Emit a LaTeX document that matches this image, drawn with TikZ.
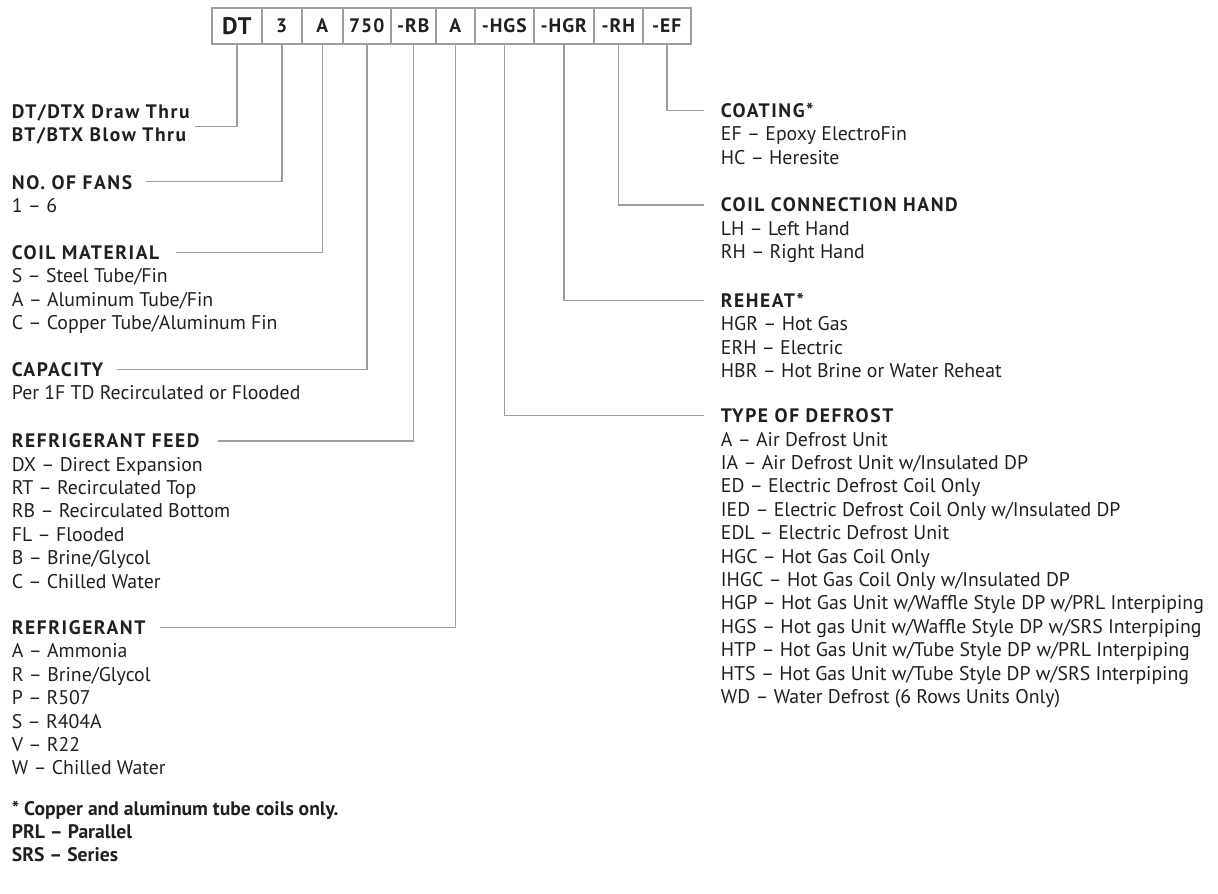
\documentclass[tikz,border=0pt]{standalone}
\usepackage{fontspec}
\setmainfont{PT Sans}
\newfontfamily\headfont[LetterSpace=8]{PT Sans}
\newfontfamily\boxfont[LetterSpace=5]{PT Sans}
\definecolor{ink}{HTML}{231F20}
\definecolor{rulegrey}{HTML}{9D9D9D}
\begin{document}
\begin{tikzpicture}[x=1pt,y=-1pt,
  code/.style={draw=rulegrey, line width=1.5pt, minimum height=36pt, inner sep=0pt, anchor=west,
    font=\fontsize{19.5}{19.5}\boxfont\bfseries, text=ink},
  head/.style={anchor=base west, inner sep=0pt, font=\fontsize{19.5}{19.5}\headfont\bfseries,
    text=ink, text height=13.7pt, text depth=0pt},
  note/.style={anchor=base west, inner sep=0pt, font=\fontsize{19.6}{19.6}\selectfont\bfseries, text=ink},
  item/.style={anchor=base west, inner sep=0pt, font=\fontsize{19.8}{19.8}\selectfont, text=ink},
  conn/.style={draw=rulegrey, line width=1.5pt}]
\useasboundingbox (0,0) rectangle (1218,894);

% code boxes
\node[code, minimum width=50pt, font=\fontsize{24}{24}\boxfont\bfseries] (b1) at (211,26) {DT};
\node[code, minimum width=40pt] (b2) at (261,26) {3};
\node[code, minimum width=41pt] (b3) at (301,26) {A};
\node[code, minimum width=48pt] (b4) at (342,26) {750};
\node[code, minimum width=45pt] (b5) at (390,26) {-RB};
\node[code, minimum width=39pt] (b6) at (435,26) {A};
\node[code, minimum width=59pt] (b7) at (474,26) {-HGS};
\node[code, minimum width=60pt] (b8) at (533,26) {-HGR};
\node[code, minimum width=49pt] (b9) at (593,26) {-RH};
\node[code, minimum width=48pt] (b10) at (642,26) {-EF};

% left column
\node[head] (hDT) at (11.7,118.4) {DT/DTX Draw Thru};
\node[head] (hBT) at (11.7,141.7) {BT/BTX Blow Thru};

\node[head] (hFans) at (11.7,189.2) {NO. OF FANS};
\node[item] (fans1) at (11.7,212.6) {1 – 6};

\node[head] (hCoil) at (11.7,259.4) {COIL MATERIAL};
\foreach \t [count=\i] in {S – Steel Tube/Fin, A – Aluminum Tube/Fin, C – Copper Tube/Aluminum Fin}
  \node[item] (coil\i) at (11.7,259.4+23.4*\i) {\t};

\node[head] (hCap) at (11.7,376.2) {CAPACITY};
\node[item] (cap1) at (11.7,399.6) {Per 1F TD Recirculated or Flooded};

\node[head] (hFeed) at (11.7,447.7) {REFRIGERANT FEED};
\foreach \t [count=\i] in {DX – Direct Expansion, RT – Recirculated Top, RB – Recirculated Bottom, FL – Flooded, B – Brine/Glycol, C – Chilled Water}
  \node[item] (feed\i) at (11.7,447.7+23.4*\i) {\t};

\node[head] (hRef) at (11.7,634.4) {REFRIGERANT};
\foreach \t [count=\i] in {A – Ammonia, R – Brine/Glycol, P – R507, S – R404A, V – R22, W – Chilled Water}
  \node[item] (ref\i) at (11.7,634.4+23.4*\i) {\t};

\node[note] (note1) at (11.7,815) {* Copper and aluminum tube coils only.};
\node[note] (note2) at (11.7,838.4) {PRL – Parallel};
\node[note] (note3) at (11.7,861.8) {SRS – Series};

% right column
\node[head] (hCoat) at (720.7,117.4) {COATING*};
\foreach \t [count=\i] in {EF – Epoxy ElectroFin, HC – Heresite}
  \node[item] (coat\i) at (720.7,117.4+23.4*\i) {\t};

\node[head] (hHand) at (720.7,211.7) {COIL CONNECTION HAND};
\foreach \t [count=\i] in {LH – Left Hand, RH – Right Hand}
  \node[item] (hand\i) at (720.7,211.7+23.4*\i) {\t};

\node[head] (hReheat) at (720.7,307.2) {REHEAT*};
\foreach \t [count=\i] in {HGR – Hot Gas, ERH – Electric, HBR – Hot Brine or Water Reheat}
  \node[item] (reh\i) at (720.7,307.2+23.4*\i) {\t};

\node[head] (hDef) at (720.7,422.7) {TYPE OF DEFROST};
\foreach \t [count=\i] in {A – Air Defrost Unit, IA – Air Defrost Unit w/Insulated DP, ED – Electric Defrost Coil Only, IED – Electric Defrost Coil Only w/Insulated DP, EDL – Electric Defrost Unit, HGC – Hot Gas Coil Only, IHGC – Hot Gas Coil Only w/Insulated DP, HGP – Hot Gas Unit w/Waffle Style DP w/PRL Interpiping, HGS – Hot gas Unit w/Waffle Style DP w/SRS Interpiping, HTP – Hot Gas Unit w/Tube Style DP w/PRL Interpiping, HTS – Hot Gas Unit w/Tube Style DP w/SRS Interpiping, WD – Water Defrost (6 Rows Units Only)}
  \node[item] (def\i) at (720.7,422.7+23.4*\i) {\t};

% connector ends
\coordinate (eDT) at (195,126.7);
\coordinate (eFans) at (145.7,181.7);
\coordinate (eCoil) at (175.7,252.7);
\coordinate (eCap) at (117.3,369.3);
\coordinate (eFeed) at (218.3,441);
\coordinate (eRef) at (160,627.7);
\coordinate (eCoat) at (704,110.7);
\coordinate (eHand) at (704,205);
\coordinate (eReheat) at (704,300.7);
\coordinate (eDef) at (704,415.7);

\draw[conn] (b1.south) |- (eDT);
\draw[conn] (b2.south) |- (eFans);
\draw[conn] (b3.south) |- (eCoil);
\draw[conn] (b4.south) |- (eCap);
\draw[conn] (b5.south) |- (eFeed);
\draw[conn] (b6.south) |- (eRef);
\draw[conn] (b7.south) |- (eDef);
\draw[conn] (b8.south) |- (eReheat);
\draw[conn] (b9.south) |- (eHand);
\draw[conn] (b10.south) |- (eCoat);
\end{tikzpicture}
\end{document}
